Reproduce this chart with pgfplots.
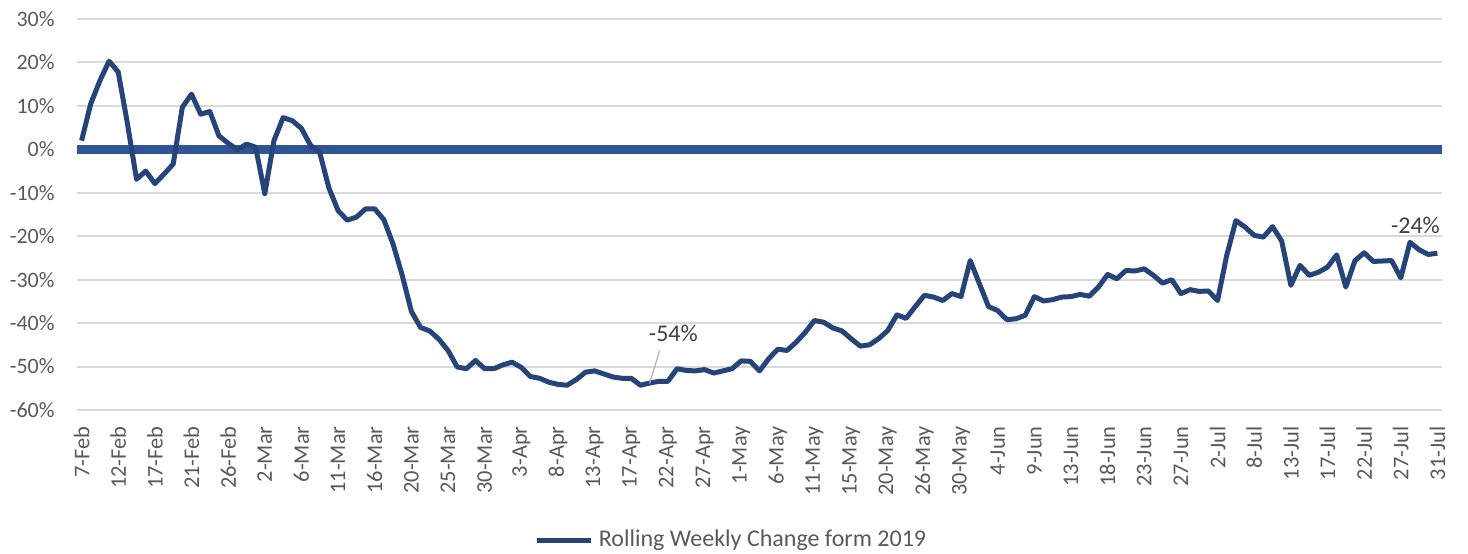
\documentclass[border=0pt]{standalone}
\usepackage{pgfplots}
\pgfplotsset{compat=1.18}
\usepackage{fontspec}
\setmainfont{Carlito}
\definecolor{dataline}{HTML}{264478}
\definecolor{zeroline}{HTML}{2F5597}
\definecolor{gridc}{HTML}{D9D9D9}
\definecolor{txt}{HTML}{595959}
\definecolor{lbl}{HTML}{404040}
\pgfplotstableread{
i v
0 2.0
1 10.5
2 15.8
3 20.3
4 17.8
5 6.0
6 -6.9
7 -5.0
8 -7.9
9 -5.7
10 -3.4
11 9.7
12 12.7
13 8.1
14 8.7
15 3.1
16 1.4
17 -0.1
18 1.2
19 0.5
20 -10.2
21 2.0
22 7.3
23 6.6
24 4.8
25 0.9
26 -0.8
27 -8.9
28 -14.1
29 -16.3
30 -15.6
31 -13.7
32 -13.7
33 -16.2
34 -21.8
35 -29.0
36 -37.3
37 -41.0
38 -41.8
39 -43.7
40 -46.3
41 -50.1
42 -50.5
43 -48.6
44 -50.5
45 -50.5
46 -49.6
47 -49.0
48 -50.2
49 -52.3
50 -52.7
51 -53.6
52 -54.1
53 -54.3
54 -53.0
55 -51.3
56 -51.0
57 -51.7
58 -52.4
59 -52.7
60 -52.7
61 -54.3
62 -53.8
63 -53.4
64 -53.4
65 -50.5
66 -50.9
67 -51.0
68 -50.7
69 -51.5
70 -51.0
71 -50.5
72 -48.7
73 -48.8
74 -51.0
75 -48.2
76 -46.0
77 -46.3
78 -44.4
79 -42.1
80 -39.4
81 -39.8
82 -41.1
83 -41.8
84 -43.6
85 -45.3
86 -45.0
87 -43.6
88 -41.7
89 -38.1
90 -38.9
91 -36.2
92 -33.6
93 -34.0
94 -34.8
95 -33.2
96 -33.9
97 -25.6
98 -30.9
99 -36.2
100 -37.1
101 -39.2
102 -39.0
103 -38.2
104 -33.9
105 -34.9
106 -34.6
107 -34.0
108 -33.9
109 -33.4
110 -33.8
111 -31.7
112 -28.8
113 -29.8
114 -27.9
115 -28.0
116 -27.5
117 -29.0
118 -30.8
119 -30.0
120 -33.2
121 -32.3
122 -32.7
123 -32.6
124 -34.8
125 -24.4
126 -16.4
127 -17.9
128 -19.8
129 -20.2
130 -17.8
131 -21.1
132 -31.3
133 -26.7
134 -29.0
135 -28.3
136 -27.1
137 -24.3
138 -31.7
139 -25.6
140 -23.8
141 -25.8
142 -25.7
143 -25.6
144 -29.6
145 -21.4
146 -23.1
147 -24.2
148 -23.9
}\datatable
\begin{document}
\begin{tikzpicture}
\path[use as bounding box] (-38.5bp,-72bp) rectangle (695.5bp,205bp);
\begin{axis}[
  at={(0,0)}, anchor=south west,
  scale only axis, width=682.5bp, height=195.5bp,
  xmin=-0.5, xmax=148.5, ymin=-60, ymax=30,
  axis line style={draw=none},
  major tick length=0pt,
  ytick={-60,-50,...,30},
  yticklabel={\pgfmathprintnumber{\tick}\%},
  /pgf/number format/assume math mode=true,
  xtick={0,4,...,148},
  xticklabels={7-Feb,12-Feb,17-Feb,21-Feb,26-Feb,2-Mar,6-Mar,11-Mar,16-Mar,20-Mar,25-Mar,30-Mar,3-Apr,8-Apr,13-Apr,17-Apr,22-Apr,27-Apr,1-May,6-May,11-May,15-May,20-May,26-May,30-May,4-Jun,9-Jun,13-Jun,18-Jun,23-Jun,27-Jun,2-Jul,8-Jul,13-Jul,17-Jul,22-Jul,27-Jul,31-Jul},
  xticklabel style={rotate=90, anchor=east, font=\fontsize{11.2bp}{13bp}\selectfont, text=txt, inner sep=0pt},
  yticklabel style={font=\fontsize{11bp}{13bp}\selectfont, text=txt, inner sep=0pt},
  xtick style={draw=none}, ytick style={draw=none},
  xticklabel shift=8bp, yticklabel shift=11bp,
  ymajorgrids, major grid style={draw=gridc, line width=1bp},
  legend style={draw=none, fill=none, at={(0.4806,-0.3325)}, anchor=center,
    font=\fontsize{12bp}{14bp}\selectfont, text=txt,
    nodes={inner xsep=2.5bp}},
  legend image code/.code={\draw[#1, line width=2.5bp] (0bp,0bp) -- (27bp,0bp);},
  clip=false,
]
\addplot[zeroline, line width=4.5bp, forget plot] coordinates {(-0.5,0) (148.5,0)};
\addplot[dataline, line width=2.5bp, line join=round, mark=none] table[x=i, y=v] {\datatable};
\addlegendentry{Rolling Weekly Change form 2019}
\draw[draw=gray!60, line width=0.6bp] (axis cs:63.1,-46.3) -- (axis cs:62.0,-53.9);
\node[text=lbl, font=\fontsize{12bp}{14bp}\selectfont] at (axis cs:64.6,-42.4) {-54\%};
\node[text=lbl, font=\fontsize{12bp}{14bp}\selectfont] at (axis cs:145.6,-17.6) {-24\%};
\end{axis}
\end{tikzpicture}
\end{document}
